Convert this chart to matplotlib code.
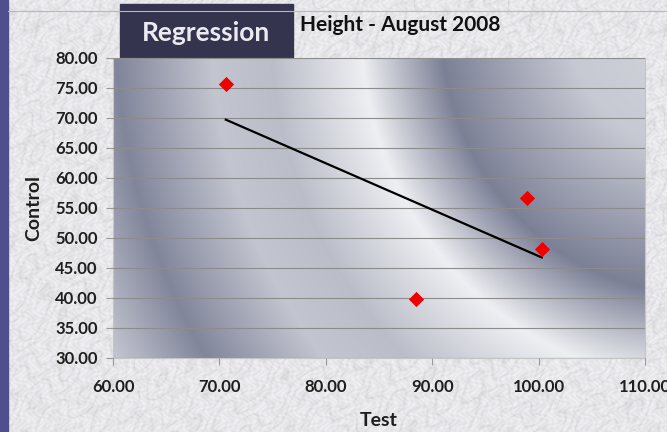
import numpy as np
import matplotlib.pyplot as plt

# data
test = [70.6, 88.5, 98.9, 100.3]
control = [75.7, 39.8, 56.6, 48.1]
x_ticks = [60, 70, 80, 90, 100, 110]
y_ticks = [30, 35, 40, 45, 50, 55, 60, 65, 70, 75, 80]

W, H = 667, 432
fig = plt.figure(figsize=(W / 100, H / 100), dpi=100)

# marble-ish backdrop (deterministic pattern)
yy, xx = np.mgrid[0:H, 0:W]
t = (xx * 0.03 + yy * 0.045 + 1.2 * np.sin(xx * 0.021 + yy * 0.017)
     + 0.9 * np.sin(xx * 0.07 - yy * 0.05) + 0.6 * np.sin(xx * 0.19 + yy * 0.13))
vein = np.abs(np.sin(t * 2.5)) ** 0.2
fine = (np.sin(xx * 0.71 + 3 * np.sin(yy * 0.37)) * np.sin(yy * 0.53 + 2 * np.sin(xx * 0.29)))
b = 0.82 + 0.11 * vein + 0.03 * fine
marble = np.clip(np.dstack([b * 0.985, b * 0.985, b]), 0, 1)
bg = fig.add_axes([0, 0, 1, 1], zorder=0)
bg.imshow(marble, aspect='auto', extent=[0, W, H, 0])
bg.add_patch(plt.Rectangle((0, 0), 8, H, color='#4f4f8e'))
bg.plot([8, W], [11, 11], color='#b8b8b8', lw=0.8)
# "Regression" label box
bg.add_patch(plt.Rectangle((120, 4), 173, 56, color='#34344f'))
bg.text(206, 33, 'Regression', color='#ebebef', fontsize=19, fontweight='bold',
        family='Lato', ha='center', va='center')
bg.set_xlim(0, W)
bg.set_ylim(H, 0)
bg.axis('off')

ax = fig.add_axes([113 / W, 1 - 358 / H, 532 / W, 300 / H], zorder=1)

# radial gradient fill of the plot area
gh, gw = 300, 532
v, u = np.mgrid[0:gh, 0:gw]
px = 113 + u
py = 58 + v
r = np.sqrt((px - 690) ** 2 + ((py - 20) * 0.92) ** 2)
prof_r = [0, 120, 250, 330, 420, 480, 575, 650, 800]
prof_v = [0.78, 0.66, 0.0, 1.0, 0.55, 0.62, 0.05, 0.6, 0.55]
val = np.interp(r, prof_r, prof_v)
dark = np.array([0x7c, 0x80, 0x96]) / 255
light = np.array([0xee, 0xef, 0xf2]) / 255
grad = dark + val[..., None] * (light - dark)
ax.imshow(grad, aspect='auto', extent=[60, 110, 30, 80], zorder=0)

ax.set_xlim(60, 110)
ax.set_ylim(30, 80)
ax.set_xticks(x_ticks)
ax.set_yticks(y_ticks)
ax.set_xticklabels([f'{t:.2f}' for t in x_ticks])
ax.set_yticklabels([f'{t:.2f}' for t in y_ticks])
ax.grid(axis='y', color='#8c8c8c', lw=0.8, zorder=1)
ax.set_axisbelow(False)
ax.tick_params(direction='out', length=5, width=0.8, color='#9a9a9a',
               labelsize=12, pad=6)
ax.tick_params(axis='x', pad=10)
for lab in ax.get_xticklabels() + ax.get_yticklabels():
    lab.set_fontweight('bold')
    lab.set_family('Lato')
    lab.set_color('#1e1e1e')
for s in ax.spines.values():
    s.set_color('#c4c4c4')
    s.set_linewidth(0.8)

ax.scatter(test, control, marker='D', s=60, color='#ee0000', zorder=4, linewidths=0)
k, c = np.polyfit(test, control, 1)
xs = np.array([min(test), max(test)])
ax.plot(xs, k * xs + c, color='black', lw=1.6, zorder=3)

ax.set_xlabel('Test', fontsize=14, fontweight='bold', family='Lato', labelpad=12,
              color='#1e1e1e')
ax.set_ylabel('Control', fontsize=14, fontweight='bold', family='Lato', labelpad=9,
              color='#1e1e1e')
fig.text(400 / W, 1 - 25 / H, 'Height - August 2008', fontsize=15, fontweight='bold',
         family='Lato', ha='center', va='center', color='#111111')

fig.savefig('out.png', dpi=100)
